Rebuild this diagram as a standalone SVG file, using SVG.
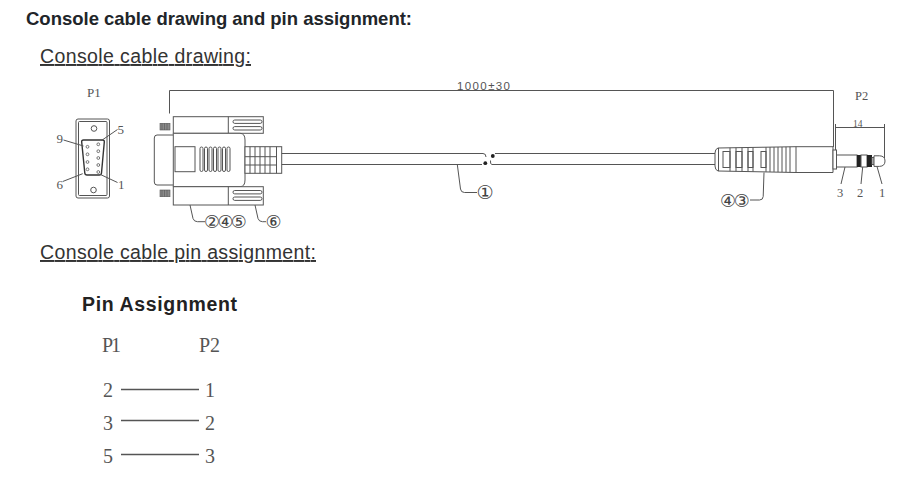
<svg xmlns="http://www.w3.org/2000/svg" width="914" height="486" viewBox="0 0 914 486">
<style>
.ln{fill:none;stroke:#555;stroke-width:1}
.bd{fill:#fff;stroke:#555;stroke-width:1}
.dk{fill:#8a8a8a;stroke:#555;stroke-width:0.6}
.sf{font-family:"Liberation Serif","Times New Roman",serif;fill:#555}
.ss{font-family:"Liberation Sans",Arial,sans-serif}
.cd{font-family:"DejaVu Sans",sans-serif;fill:#444}
.pin{fill:#fff;stroke:#555;stroke-width:0.8}
</style>
<rect width="914" height="486" fill="#fff"/>
<g id="headings">
<text x="26" y="25" class="ss" font-weight="bold" font-size="18.5" fill="#212529" textLength="386">Console cable drawing and pin assignment:</text>
<text x="40" y="63" class="ss" font-size="19.5" fill="#333" text-decoration="underline" textLength="211">Console cable drawing:</text>
<text x="40" y="259" class="ss" font-size="19.5" fill="#333" text-decoration="underline" textLength="276">Console cable pin assignment:</text>
</g>
<g id="p1-face">
<text x="87" y="97" class="sf" font-size="13">P1</text>
<rect x="76" y="119" width="33.5" height="79" rx="2" class="bd"/>
<rect x="78.5" y="121.5" width="28.5" height="74" rx="1" class="ln"/>
<circle cx="94" cy="128.5" r="2.8" class="ln"/>
<circle cx="93.5" cy="190" r="2.8" class="ln"/>
<path d="M83.5,140 H102.5 Q104.5,140 104.3,142 L101.5,173 Q101.3,175 99.3,175 H87 Q85,175 84.8,173 L81.7,142 Q81.5,140 83.5,140 Z" fill="none" stroke="#333" stroke-width="1.4"/>
<circle cx="98.3" cy="144.3" r="1.4" class="pin"/>
<circle cx="98.3" cy="151.2" r="1.4" class="pin"/>
<circle cx="98.3" cy="158" r="1.4" class="pin"/>
<circle cx="98.3" cy="165" r="1.4" class="pin"/>
<circle cx="98.3" cy="172" r="1.4" class="pin"/>
<circle cx="87.5" cy="146.8" r="1.4" class="pin"/>
<circle cx="87.5" cy="154.3" r="1.4" class="pin"/>
<circle cx="87.5" cy="162" r="1.4" class="pin"/>
<circle cx="87.5" cy="169.3" r="1.4" class="pin"/>
<path d="M117.5,129.5 L101.5,140.5 M63.5,140 L83.5,146 M62.7,181.5 L82.7,173.7 M117.5,182.5 L100,174.3" class="ln"/>
<text x="117.5" y="134" class="sf" font-size="13">5</text>
<text x="56.5" y="143" class="sf" font-size="13">9</text>
<text x="56.5" y="189" class="sf" font-size="13">6</text>
<text x="118" y="189" class="sf" font-size="13">1</text>
</g>
<g id="db9-plug">
<rect x="160" y="123.3" width="10" height="6.7" class="dk"/>
<rect x="160" y="190" width="10" height="6.7" class="dk"/>
<path d="M162,123.3 V130 M164.5,123.3 V130 M167,123.3 V130 M162,190 V196.7 M164.5,190 V196.7 M167,190 V196.7" stroke="#555" stroke-width="0.6"/>
<path d="M173.3,135 H157 Q154.3,135 154.3,138 V182 Q154.3,185 157,185 H173.3" class="bd"/>
<rect x="173.3" y="116.7" width="90" height="16.6" class="bd"/>
<line x1="228.3" y1="116.7" x2="228.3" y2="133.3" class="ln"/>
<rect x="233" y="120" width="29" height="3.4" rx="1.7" class="ln"/>
<rect x="233" y="126.6" width="29" height="3.4" rx="1.7" class="ln"/>
<path d="M173.3,133.3 H240 Q245,133.3 245,140 V180 Q245,186.7 240,186.7 H173.3 Z" class="bd"/>
<rect x="175" y="146.7" width="20" height="25" class="ln"/>
<rect x="200" y="147" width="3" height="24.5" rx="1.5" class="ln"/>
<rect x="204.5" y="147" width="3" height="24.5" rx="1.5" class="ln"/>
<rect x="209" y="147" width="3" height="24.5" rx="1.5" class="ln"/>
<rect x="213.5" y="147" width="3" height="24.5" rx="1.5" class="ln"/>
<rect x="218" y="147" width="3" height="24.5" rx="1.5" class="ln"/>
<rect x="222.5" y="147" width="3" height="24.5" rx="1.5" class="ln"/>
<rect x="227" y="147" width="3" height="24.5" rx="1.5" class="ln"/>
<rect x="173.3" y="186.7" width="90" height="18.3" class="bd"/>
<line x1="228.3" y1="186.7" x2="228.3" y2="205" class="ln"/>
<rect x="233" y="190.5" width="29" height="3.4" rx="1.7" class="ln"/>
<rect x="233" y="197" width="29" height="3.4" rx="1.7" class="ln"/>
<rect x="245" y="146.7" width="36.7" height="26.6" class="bd"/>
<path d="M250,146.7 V173.3 M255,146.7 V173.3 M260,146.7 V173.3 M265,146.7 V173.3 M270,146.7 V173.3 M276.5,146.7 V173.3 M245,156.7 H276.5 M245,165 H276.5" class="ln"/>
</g>
<g id="cable">
<path d="M281.7,153.5 H483 Q486,153.5 486,157 M281.7,164.5 H482" class="ln"/>
<path d="M495,153.5 H716 M492,164.5 H716 M492,164.5 Q490,164.5 490.5,160.5" class="ln"/>
<circle cx="485.3" cy="163.2" r="1.9" fill="#222"/>
<circle cx="492.8" cy="156" r="1.9" fill="#222"/>
</g>
<g id="p2-plug">
<path d="M718,148 L796,146.7 H833 V172.5 H796 L718,171 Q715,170 715,166 V153 Q715,149 718,148 Z" class="bd"/>
<path d="M718.5,148 V171 M730,147.8 V171.2 M736,147.7 V171.3 M742,147.6 V171.4 M748,147.5 V171.5 M753,147.4 V171.6 M766,147.2 V171.8 M770,147.1 V171.9 M774,147.1 V171.9 M778,147 V172 M782,147 V172 M786,146.9 V172.1 M790,146.8 V172.2 M796,146.7 V172.5" class="ln"/>
<rect x="723" y="151.5" width="7" height="16" class="ln"/>
<rect x="736" y="151.5" width="6" height="16" class="ln"/>
<rect x="748" y="151.5" width="5" height="16" class="ln"/>
<rect x="761" y="151.5" width="5" height="16" class="ln"/>
<rect x="833" y="150" width="3.5" height="19" class="bd"/>
<rect x="836.5" y="155" width="20.5" height="12" class="bd"/>
<rect x="857" y="155" width="4" height="12" fill="#222"/>
<rect x="861" y="155" width="6" height="12" class="bd"/>
<rect x="867" y="155" width="5" height="12" fill="#222"/>
<rect x="872" y="157.5" width="2" height="7" class="bd"/>
<path d="M874,155.8 H879.5 Q885,156 885,161 Q885,166.2 879.5,166.4 H874 Z" class="bd"/>
</g>
<g id="dimensions">
<path d="M169.5,113.5 V90.5 H833.5 V147 M835.5,124 V150 M884.5,124 V158 M835.5,127.5 H884.5" class="ln"/>
<text x="457" y="89.5" class="ss" font-size="11.5" fill="#555" textLength="53">1000±30</text>
<text x="855" y="100" class="sf" font-size="12.5">P2</text>
<text x="853" y="126.5" class="sf" font-size="9.5">14</text>
</g>
<g id="callouts">
<path d="M190,205 L193,218.5 Q194,221.7 197.5,221.7 H205" class="ln"/>
<path d="M255,205 L258,218.5 Q259,221.7 262.5,221.7 H266" class="ln"/>
<path d="M457.3,164.5 L460.5,189 Q461,192.5 464.5,192.5 H477" class="ln"/>
<path d="M750,200 H759.5 Q763,200 763.2,196.5 L764,172.5" class="ln"/>
<path d="M841,184 L845,167 M861,184 L862.7,167 M882,184 L877,166.5" class="ln"/>
<text x="204" y="228" class="cd" font-size="18" textLength="43">②④⑤</text>
<text x="265.5" y="228" class="cd" font-size="18">⑥</text>
<text x="476.5" y="199" class="cd" font-size="19">①</text>
<text x="720" y="206.5" class="cd" font-size="18" textLength="30">④③</text>
<text x="837" y="197" class="sf" font-size="12.5">3</text>
<text x="857" y="197" class="sf" font-size="12.5">2</text>
<text x="879" y="197" class="sf" font-size="12.5">1</text>
</g>
<g id="pin-assignment">
<text x="82" y="311" class="ss" font-weight="bold" font-size="19.5" fill="#222" textLength="155">Pin Assignment</text>
<text x="102" y="352" class="sf" font-size="20" textLength="19">P1</text>
<text x="199" y="352" class="sf" font-size="20" textLength="21">P2</text>
<text x="103" y="397" class="sf" font-size="20">2</text>
<text x="205" y="397" class="sf" font-size="20">1</text>
<text x="103" y="430" class="sf" font-size="20">3</text>
<text x="205" y="430" class="sf" font-size="20">2</text>
<text x="103" y="463" class="sf" font-size="20">5</text>
<text x="205" y="463" class="sf" font-size="20">3</text>
<path d="M121,389.5 H199 M121,420.5 H199 M121,454.5 H199" fill="none" stroke="#555" stroke-width="1.5"/>
</g>
</svg>
